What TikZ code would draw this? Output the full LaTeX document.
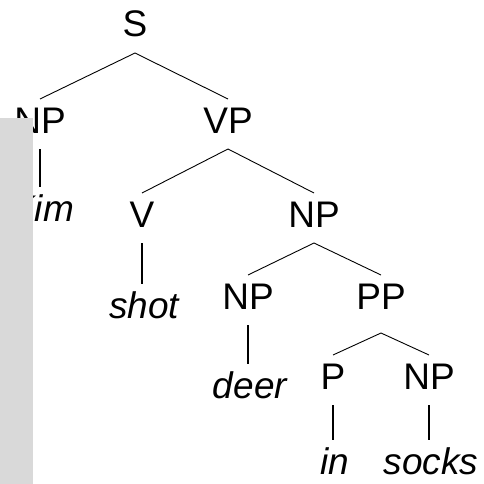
\documentclass[tikz,border=0pt]{standalone}
\usepackage{fontspec}
\setmainfont{Liberation Sans}
\definecolor{boxgray}{HTML}{D9D9D9}

\begin{document}
\begin{tikzpicture}[x=1pt,y=-1pt,
  every node/.style={inner sep=0pt,outer ysep=7pt,anchor=base,text height=27pt,text depth=9pt,font=\fontsize{37}{40}\selectfont},
  word/.style={font=\fontsize{37}{40}\selectfont\itshape},
  branch/.style={line width=0.9pt},
  stem/.style={line width=2.3pt}]
  \useasboundingbox (0,0) rectangle (483,484);

  % categories
  \node (s) at (135,37) {S};
  \node (np1) at (40,133) {NP};
  \node (vp) at (228,133) {VP};
  \node (v) at (142,227) {V};
  \node (np2) at (314,227) {NP};
  \node (np3) at (248,309) {NP};
  \node (pp) at (381,309) {PP};
  \node (p) at (333,389) {P};
  \node (np4) at (429,389) {NP};

  % words
  \node[word] (kim) at (42,221) {Kim};
  \node[word] (shot) at (144,318) {shot};
  \node[word] (deer) at (250,398) {deer};
  \node[word] (in) at (335,474) {in};
  \node[word] (socks) at (431,474) {socks};

  \begin{scope}[branch]
    \draw (s.south) -- (np1.north);
    \draw (s.south) -- (vp.north);
    \draw (vp.south) -- (v.north);
    \draw (vp.south) -- (np2.north);
    \draw (np2.south) -- (np3.north);
    \draw (np2.south) -- (pp.north);
    \draw ([yshift=-8pt]pp.south) -- (p.north);
    \draw ([yshift=-8pt]pp.south) -- (np4.north);
  \end{scope}

  % unary stems stay vertical under their parent
  \begin{scope}[stem]
    \draw (np1.south) -- (np1.south |- kim.north);
    \draw (v.south) -- (v.south |- shot.north);
    \draw (np3.south) -- (np3.south |- deer.north);
    \draw (p.south) -- (p.south |- in.north);
    \draw (np4.south) -- (np4.south |- socks.north);
  \end{scope}

  \fill[boxgray] (0,118) rectangle (33,484);
\end{tikzpicture}
\end{document}
